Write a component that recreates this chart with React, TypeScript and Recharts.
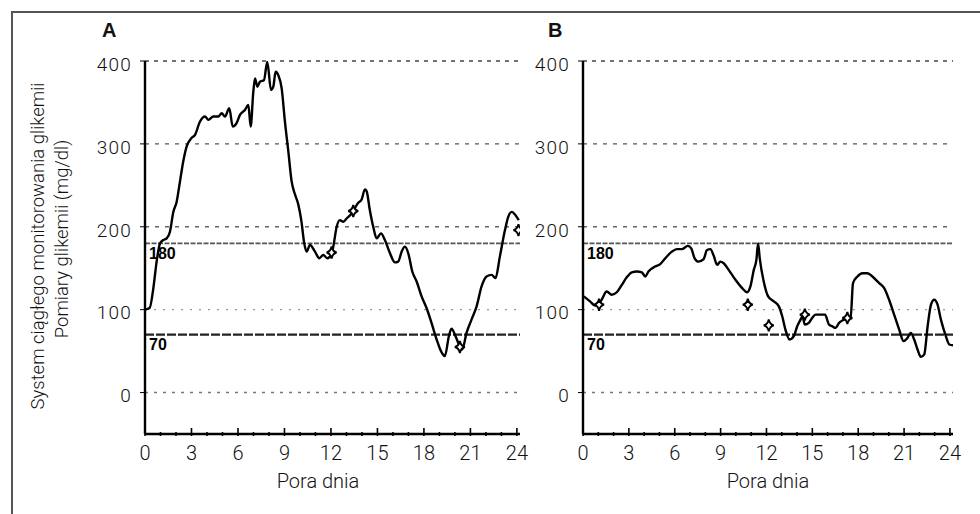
import { ComposedChart, Line, Scatter, XAxis, YAxis, ReferenceLine } from "recharts";

const FONT = "Roboto, 'Liberation Sans', sans-serif";

const hourTicks = [0, 1, 2, 3, 4, 5, 6, 7, 8, 9, 10, 11, 12, 13, 14, 15, 16, 17, 18, 19, 20, 21, 22, 23, 24];
const glucoseTicks = [0, 100, 200, 300, 400];

// Panel A – CGM trace
const cgmHoursA = [
  0, 0.3, 0.54, 0.75, 0.97, 1.18, 1.4, 1.61, 1.83, 2.04, 2.26, 2.47, 2.69, 3.0, 3.23, 3.55, 3.87, 4.09, 4.41,
  4.73, 4.95, 5.16, 5.44, 5.66, 5.91, 6.13, 6.45, 6.67, 6.82, 6.99, 7.1, 7.25, 7.42, 7.68, 7.89, 8.13, 8.28,
  8.43, 8.6, 8.82, 9.03, 9.25, 9.46, 9.68, 9.89, 10.1, 10.26, 10.43, 10.65, 10.97, 11.25, 11.51, 11.76, 12.04,
  12.15, 12.37, 12.58, 12.8, 13.01, 13.3, 13.76, 13.98, 14.19, 14.3, 14.51, 14.73, 14.95, 15.23, 15.48, 15.81,
  16.13, 16.34, 16.56, 16.77, 16.99, 17.25, 17.53, 17.85, 18.17, 18.49, 18.82, 19.1, 19.35, 19.61, 19.78, 20.04,
  20.26, 20.47, 20.75, 21.07, 21.4, 21.72, 22.04, 22.37, 22.62, 22.9, 23.23, 23.44, 23.66, 23.91, 24.12,
];
const cgmValuesA = [
  100, 102, 126, 158, 180, 184, 186, 194, 218, 230, 255, 279, 297, 307, 311, 327, 333, 329, 333,
  333, 337, 333, 343, 321, 325, 335, 341, 347, 321, 363, 379, 369, 375, 377, 399, 365, 369,
  387, 383, 367, 327, 291, 255, 239, 227, 206, 182, 170, 178, 170, 162, 166, 162, 167,
  176, 200, 208, 206, 210, 215, 229, 233, 245, 243, 220, 200, 186, 192, 184, 168,
  157, 158, 170, 176, 168, 146, 134, 116, 102, 84, 64, 50, 44, 68, 77, 68,
  58, 52, 72, 88, 104, 128, 140, 142, 138, 164, 196, 212, 218, 214, 208,
];
// Panel A – meter readings
const meterHoursA = [12.04, 13.44, 20.32, 24.1];
const meterValuesA = [169, 219, 55, 196];

// Panel B – CGM trace
const cgmHoursB = [
  0.05, 0.46, 0.79, 1.0, 1.22, 1.55, 1.88, 2.21, 2.54, 2.86, 3.19, 3.52, 3.85, 4.07, 4.28, 4.72, 5.05, 5.38,
  5.81, 6.14, 6.47, 6.86, 7.08, 7.3, 7.56, 7.89, 8.11, 8.33, 8.55, 8.77, 8.98, 9.2, 9.53, 9.97, 10.41, 10.73,
  10.95, 11.17, 11.34, 11.45, 11.56, 11.82, 12.11, 12.48, 12.81, 13.03, 13.24, 13.51, 13.79, 14.01, 14.23,
  14.35, 14.51, 14.77, 14.99, 15.21, 15.54, 15.83, 16.09, 16.3, 16.52, 16.74, 17.07, 17.29, 17.51, 17.66,
  17.95, 18.27, 18.61, 18.93, 19.37, 19.7, 20.02, 20.35, 20.68, 20.97, 21.23, 21.44, 21.66, 21.88, 22.1,
  22.32, 22.54, 22.76, 22.97, 23.19, 23.41, 23.7, 23.96, 24.2,
];
const cgmValuesB = [
  116, 110, 105, 106, 112, 122, 118, 121, 130, 139, 145, 146, 145, 140, 146, 152, 155, 162,
  170, 173, 173, 177, 174, 162, 158, 161, 172, 173, 165, 154, 158, 156, 148, 136, 126, 121,
  128, 148, 160, 180, 162, 134, 116, 110, 104, 92, 76, 64, 68, 80, 88,
  92, 82, 84, 90, 94, 94, 94, 82, 80, 78, 84, 88, 90, 92, 132,
  140, 144, 144, 140, 132, 126, 112, 94, 76, 62, 66, 72, 64, 52, 43,
  46, 80, 106, 112, 106, 88, 70, 58, 57,
];
// Panel B – meter readings
const meterHoursB = [1.05, 10.78, 12.15, 14.51, 17.29];
const meterValuesB = [106, 106, 81, 94, 90];

const rows = (hs: number[], vs: number[]) => hs.map((h, i) => ({ h, v: vs[i] }));

function HourTick(props: any) {
  const { x, y, payload } = props;
  const v = payload.value;
  const major = v % 3 === 0;
  return (
    <g>
      <line x1={x} x2={x} y1={y} y2={y - (major ? 8 : 4)} stroke="#000" strokeWidth={1.6} />
      {major && (
        <text x={x} y={y + 24} textAnchor="middle" fontSize={20} fontFamily={FONT} fontWeight={300} fill="#111">
          {v}
        </text>
      )}
    </g>
  );
}

function GlucoseTick(props: any) {
  const { x, y, payload } = props;
  return (
    <text x={x} y={y + 3} dy="0.355em" textAnchor="end" fontSize={19} fontFamily={FONT} fontWeight={300}
      fill="#111" letterSpacing={1.2}>
      {payload.value}
    </text>
  );
}

function Diamond(props: any) {
  const { cx, cy } = props;
  const d = `M${cx},${cy - 6} Q${cx + 1},${cy - 1} ${cx + 5},${cy} Q${cx + 1},${cy + 1} ${cx},${cy + 6} Q${cx - 1},${cy + 1} ${cx - 5},${cy} Q${cx - 1},${cy - 1} ${cx},${cy - 6} Z`;
  return <path d={d} fill="#fff" stroke="#000" strokeWidth={1.9} />;
}

const refLabel = (value: string) => ({
  value,
  position: "insideTopLeft" as const,
  offset: 4,
  style: { fontSize: 16, fontWeight: 700, fill: "#000", fontFamily: "'Liberation Sans', Arial, sans-serif" },
});

interface PanelProps {
  left: number;
  width: number;
  marginLeft: number;
  marginRight: number;
  cgm: { h: number; v: number }[];
  meters: { h: number; v: number }[];
}

function Panel({ left, width, marginLeft, marginRight, cgm, meters }: PanelProps) {
  return (
    <div style={{ position: "absolute", left, top: 0, width, height: 514 }}>
      <ComposedChart width={width} height={514} margin={{ top: 61, right: marginRight, bottom: 40, left: marginLeft }}>
        <XAxis
          type="number"
          dataKey="h"
          domain={[0, 24.2]}
          ticks={hourTicks}
          interval={0}
          tick={<HourTick />}
          tickSize={0}
          tickLine={false}
          axisLine={{ stroke: "#000", strokeWidth: 2.5 }}
          height={40}
          allowDataOverflow
        />
        <YAxis
          type="number"
          dataKey="v"
          domain={[-50, 400]}
          ticks={glucoseTicks}
          interval={0}
          width={50}
          tickSize={5}
          tickMargin={8}
          tick={<GlucoseTick />}
          tickLine={{ stroke: "#000", strokeWidth: 1 }}
          axisLine={{ stroke: "#000", strokeWidth: 2.4 }}
          allowDataOverflow
        />
        <ReferenceLine y={400} stroke="#444" strokeWidth={1.6} strokeDasharray="4 5" />
        <ReferenceLine y={300} stroke="#555" strokeWidth={1.4} strokeDasharray="4 6" />
        <ReferenceLine y={200} stroke="#666" strokeWidth={1.4} strokeDasharray="4 6" />
        <ReferenceLine y={180} stroke="#555" strokeWidth={1.7} strokeDasharray="5 1.5" label={refLabel("180")} />
        <ReferenceLine y={100} stroke="#999" strokeWidth={1.3} strokeDasharray="2 7" />
        <ReferenceLine y={70} stroke="#222" strokeWidth={2.2} strokeDasharray="9 2" label={refLabel("70")} />
        <ReferenceLine y={0} stroke="#777" strokeWidth={1.4} strokeDasharray="3 6" />
        <Line data={cgm} dataKey="v" type="monotone" stroke="#000" strokeWidth={2.4} dot={false}
          isAnimationActive={false} />
        <Scatter data={meters} dataKey="v" shape={<Diamond />} isAnimationActive={false} />
      </ComposedChart>
    </div>
  );
}

export default function App() {
  const textStyle = { fontFamily: FONT, fontWeight: 300, fill: "#111" };
  return (
    <div style={{ position: "absolute", left: 0, top: 0, width: 980, height: 514, overflow: "hidden", background: "#fff" }}>
      <div style={{ position: "absolute", left: 11, top: 11, width: 990, height: 520, borderLeft: "2px solid #555", borderTop: "2px solid #555" }} />
      <Panel left={0} width={540} marginLeft={95} marginRight={20} cgm={rows(cgmHoursA, cgmValuesA)} meters={rows(meterHoursA, meterValuesA)} />
      <Panel left={490} width={490} marginLeft={43} marginRight={27} cgm={rows(cgmHoursB, cgmValuesB)} meters={rows(meterHoursB, meterValuesB)} />
      <svg width={980} height={514} style={{ position: "absolute", left: 0, top: 0, pointerEvents: "none" }}>
        <text x={102} y={37} fontSize={20} fontWeight={700} fontFamily="'Liberation Sans', Arial, sans-serif" fill="#111">A</text>
        <text x={548} y={37} fontSize={20} fontWeight={700} fontFamily="'Liberation Sans', Arial, sans-serif" fill="#111">B</text>
        <text x={44} y={246} transform="rotate(-90, 44, 246)" textAnchor="middle" fontSize={18.5} style={textStyle}>
          System ciągłego monitorowania glikemii
        </text>
        <text x={68} y={239} transform="rotate(-90, 68, 239)" textAnchor="middle" fontSize={18.5} style={textStyle}>
          Pomiary glikemii (mg/dl)
        </text>
        <text x={318} y={488} textAnchor="middle" fontSize={20} style={textStyle}>Pora dnia</text>
        <text x={768} y={488} textAnchor="middle" fontSize={20} style={textStyle}>Pora dnia</text>
      </svg>
    </div>
  );
}
